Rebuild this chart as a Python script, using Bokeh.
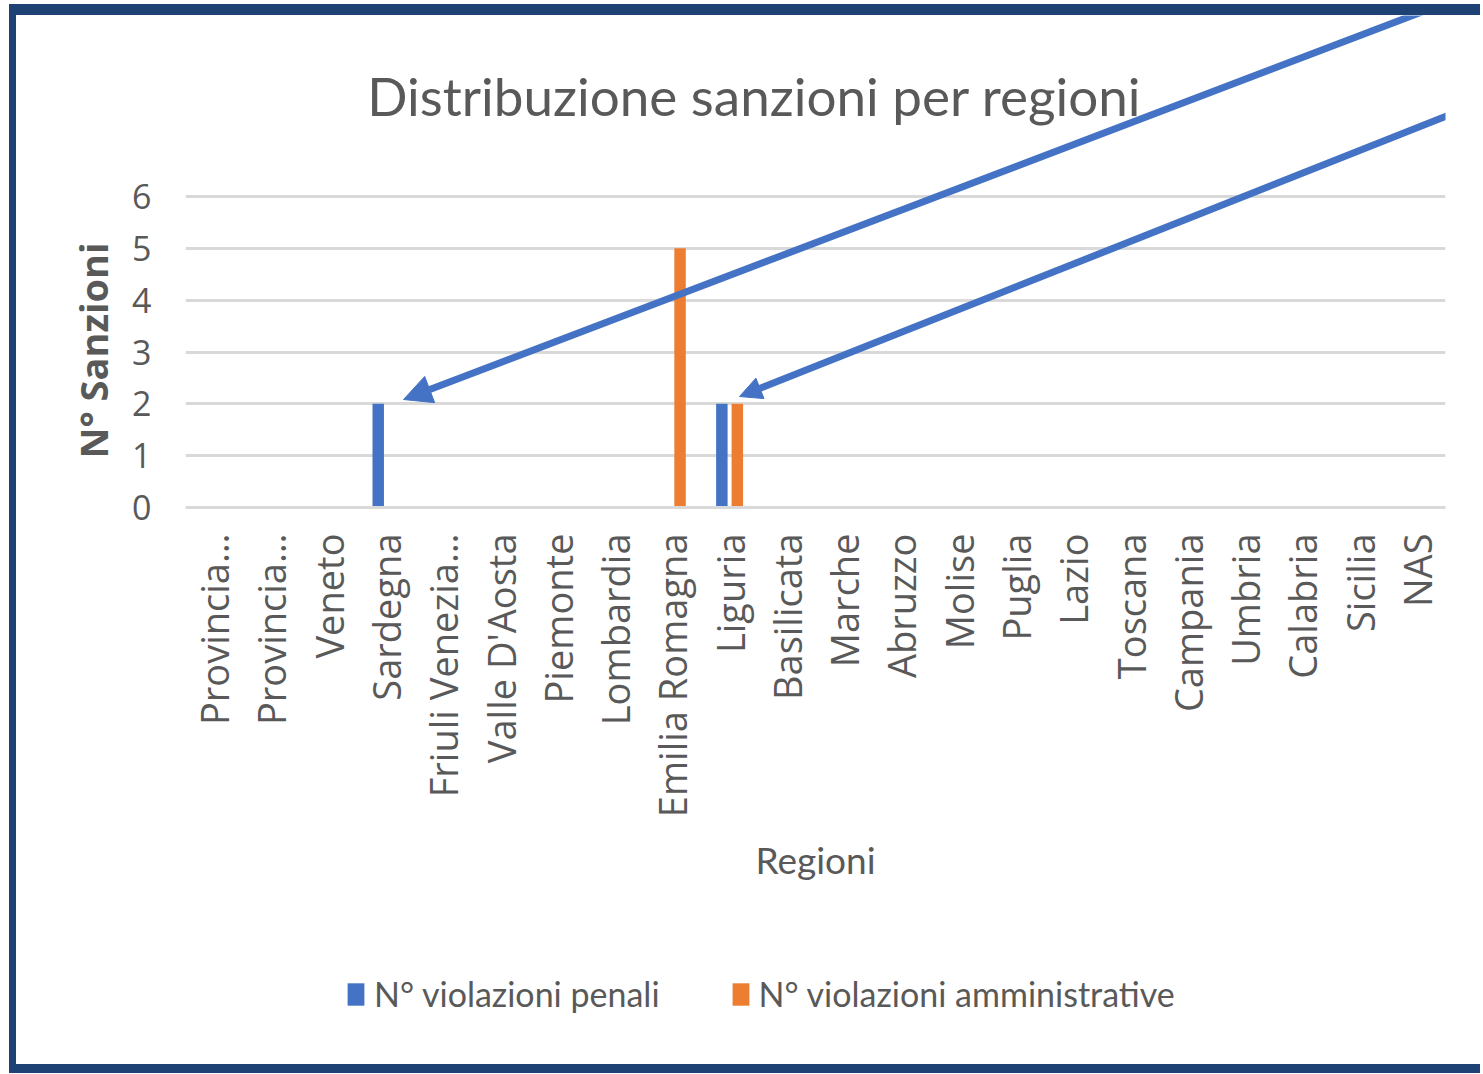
from math import pi
from bokeh.plotting import figure
from bokeh.layouts import column
from bokeh.models import (ColumnDataSource, FactorRange, Range1d, Legend, LegendItem,
                          Label, Arrow, NormalHead, Title)
from bokeh.transform import dodge
from bokeh.embed import file_html
from bokeh.resources import INLINE

# ---------------- data ----------------
regioni = ["Provincia…", "Provincia…\u200b", "Veneto", "Sardegna",
           "Friuli Venezia…", "Valle D'Aosta", "Piemonte", "Lombardia", "Emilia Romagna",
           "Liguria", "Basilicata", "Marche", "Abruzzo", "Molise", "Puglia", "Lazio", "Toscana",
           "Campania", "Umbria", "Calabria", "Sicilia", "NAS"]
penali = [0, 0, 0, 2, 0, 0, 0, 0, 0, 2, 0, 0, 0, 0, 0, 0, 0, 0, 0, 0, 0, 0]
amministrative = [0, 0, 0, 0, 0, 0, 0, 0, 5, 2, 0, 0, 0, 0, 0, 0, 0, 0, 0, 0, 0, 0]
y_ticks = [0, 1, 2, 3, 4, 5, 6]
serie = ["N° violazioni penali", "N° violazioni amministrative"]
titolo = "Distribuzione sanzioni per regioni"
titolo_y = "N° Sanzioni"
titolo_x = "Regioni"

# ---------------- style / layout ----------------
BLUE = "#4472c4"
ORANGE = "#ed7d31"
NAVY = "#1f4275"
GREY_TXT = "#595959"
GRID = "#d9d9d9"

MARGIN_TOP, MARGIN_LEFT = 4, 9
B_TOP, B_LEFT, B_BOTTOM = 11, 7, 9
PAGE_X, PAGE_Y = MARGIN_LEFT + B_LEFT, MARGIN_TOP + B_TOP   # canvas origin on the page
W = 1464
H_TOTAL = 1049
H_LEG = 123                          # strip under the chart that holds the legend
H = H_TOTAL - H_LEG
F_LEFT_IMG, F_RIGHT_IMG = 185, 1445  # frame edges, page px
Y6_IMG, Y0_IMG = 196, 507            # pixel rows of value 6 and value 0
FL = F_LEFT_IMG - PAGE_X
FR = W - (F_RIGHT_IMG - PAGE_X)
FT = 0
FB = H - (Y0_IMG - PAGE_Y)
PX_PER_CAT = (F_RIGHT_IMG - F_LEFT_IMG) / len(regioni)
PX_PER_UNIT = (Y0_IMG - Y6_IMG) / y_ticks[-1]
Y_TOP = (Y0_IMG - PAGE_Y) / PX_PER_UNIT
LEG_BOTTOM_IMG = PAGE_Y + H_TOTAL


def sx(X):
    return (X - F_LEFT_IMG) / PX_PER_CAT


def sy(Y):
    return (Y0_IMG - Y) / PX_PER_UNIT


src = ColumnDataSource(dict(regioni=regioni, penali=penali, amministrative=amministrative))

p = figure(width=W, height=H, x_range=FactorRange(factors=regioni), y_range=Range1d(0, Y_TOP),
           output_backend="svg", toolbar_location=None, title=None,
           min_border_left=FL, min_border_right=FR, min_border_top=FT, min_border_bottom=FB)
p.outline_line_color = None
p.background_fill_color = "white"
p.border_fill_color = "white"

r1 = p.vbar(x=dodge("regioni", -0.135, range=p.x_range), top="penali", width=0.2,
            source=src, fill_color=BLUE, line_color=None)
r2 = p.vbar(x=dodge("regioni", 0.135, range=p.x_range), top="amministrative", width=0.2,
            source=src, fill_color=ORANGE, line_color=None)

# grid
p.xgrid.grid_line_color = None
p.ygrid.grid_line_color = GRID
p.ygrid.grid_line_width = 3
p.ygrid.ticker = y_ticks

# x axis
xa = p.xaxis[0]
xa.major_label_orientation = pi / 2
xa.major_label_text_font = "Open Sans"
xa.major_label_text_font_size = "38px"
xa.major_label_text_color = GREY_TXT
xa.major_label_standoff = 20
xa.major_tick_line_color = None
xa.minor_tick_line_color = None
xa.axis_line_color = GRID
xa.axis_line_width = 3
xa.axis_label = titolo_x
xa.axis_label_text_font = "Lato"
xa.axis_label_text_font_style = "normal"
xa.axis_label_text_font_size = "37px"
xa.axis_label_text_color = GREY_TXT
xa.axis_label_standoff = 17

# y axis
ya = p.yaxis[0]
ya.ticker = y_ticks
ya.major_label_text_font = "Open Sans"
ya.major_label_text_font_size = "34px"
ya.major_label_text_color = GREY_TXT
ya.major_label_standoff = 28
ya.major_tick_line_color = None
ya.minor_tick_line_color = None
ya.axis_line_color = None
ya.axis_label = None

# y-axis title, placed along the 0..6 span of the axis
p.add_layout(Title(text=titolo_y, align="left", offset=Y0_IMG - 458, standoff=22,
                   text_font="Open Sans", text_font_style="bold", text_font_size="38px",
                   text_color=GREY_TXT), "left")

# chart title (inside the frame, which reaches the top of the canvas)
p.add_layout(Label(x=754 - F_LEFT_IMG, y=Y0_IMG - 95, x_units="screen", y_units="screen",
                   text=titolo, text_align="center", text_baseline="middle",
                   text_font="Lato", text_font_size="53px", text_color=GREY_TXT))

# arrows
for (x0, y0, x1, y1, hs) in [(1462, -4, 403, 399, 28), (1480, 102, 739, 396, 22)]:
    p.add_layout(Arrow(x_start=sx(x0), y_start=sy(y0), x_end=sx(x1), y_end=sy(y1),
                       line_color=BLUE, line_width=7,
                       end=NormalHead(size=hs, fill_color=BLUE, line_color=BLUE, line_width=1)))

# legend strip (its keys are the same two series, kept hidden in this strip)
q = figure(width=W, height=H_LEG, x_range=p.x_range, y_range=Range1d(0, 1),
           output_backend="svg", toolbar_location=None, title=None,
           x_axis_location=None, y_axis_location=None, min_border=0)
q.outline_line_color = None
q.grid.visible = False
k1 = q.vbar(x="regioni", top="penali", bottom="penali", width=0.2, source=src,
            fill_color=BLUE, line_color=None, visible=False)
k2 = q.vbar(x="regioni", top="amministrative", bottom="amministrative", width=0.2, source=src,
            fill_color=ORANGE, line_color=None, visible=False)
legend = Legend(items=[LegendItem(label=serie[0], renderers=[k1]),
                       LegendItem(label=serie[1], renderers=[k2])],
                orientation="horizontal",
                location=(345 - F_LEFT_IMG, LEG_BOTTOM_IMG - 993 - 21),
                glyph_width=21, glyph_height=28, label_standoff=8, spacing=70,
                padding=0, margin=0, border_line_color=None, background_fill_alpha=0,
                label_text_font="Lato", label_text_font_size="34px",
                label_text_color=GREY_TXT, click_policy="none")
q.add_layout(legend)

page = column(p, q, spacing=0,
              styles={"margin-top": f"{MARGIN_TOP}px",
                      "margin-left": f"{MARGIN_LEFT}px",
                      "border-top": f"{B_TOP}px solid {NAVY}",
                      "border-left": f"{B_LEFT}px solid {NAVY}",
                      "border-bottom": f"{B_BOTTOM}px solid {NAVY}",
                      "background-color": "white"})

open("out.html", "w").write(file_html(page, INLINE))
